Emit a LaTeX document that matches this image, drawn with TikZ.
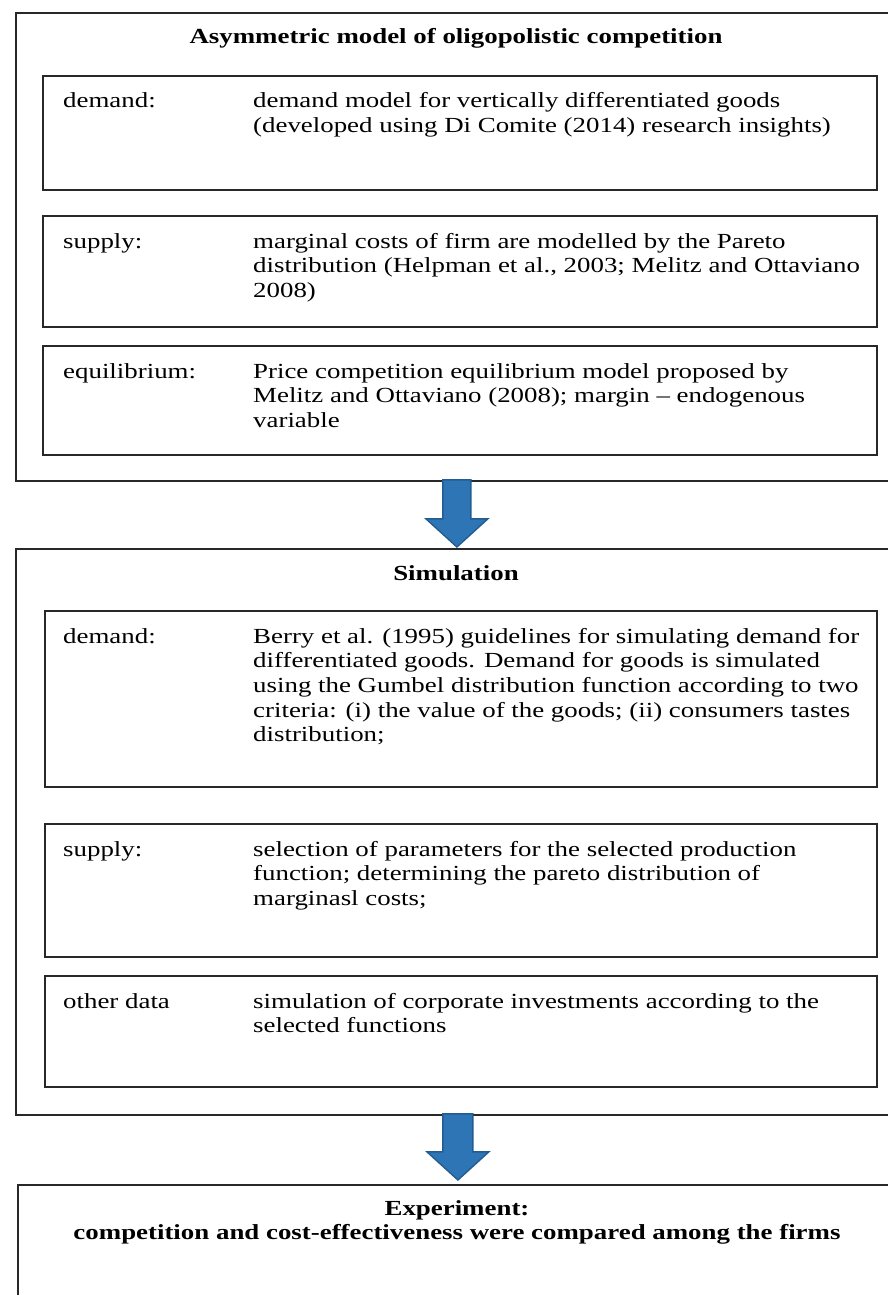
\documentclass[tikz,border=0pt]{standalone}
\usepackage{fontspec}
\setmainfont{Liberation Serif}[FakeStretch=1.25]
\usetikzlibrary{calc}
\definecolor{arrowfill}{RGB}{46,117,182}
\definecolor{arrowline}{RGB}{34,92,145}
\definecolor{boxline}{RGB}{40,40,40}
\begin{document}
\begin{tikzpicture}[x=1pt,y=-1pt,
  box/.style={draw=boxline,line width=1.8pt,rectangle,inner sep=0pt,anchor=north west},
  lbl/.style={inner sep=0pt,anchor=base west,font=\fontsize{21.5}{24.7}\selectfont},
  body/.style={inner sep=0pt,anchor=base west,align=left,font=\fontsize{21.5}{24.7}\selectfont},
  ttl/.style={inner sep=0pt,anchor=base,align=center,font=\fontsize{21.5}{24.3}\selectfont\bfseries},
  blockarrow/.style={fill=arrowfill,draw=arrowline,line width=1.4pt,line join=miter}
]
\clip (0,0) rectangle (888,1295);
\fill[white] (0,0) rectangle (888,1295);

% first block
\node[box,minimum width=885pt,minimum height=468pt] (outer1) at (15,12) {};
\node[ttl] (t1) at (456,44) {Asymmetric model of oligopolistic competition};
\node[box,minimum width=834pt,minimum height=114pt] (b1a) at (42,75) {};
\node[box,minimum width=834pt,minimum height=111pt] (b1b) at (42,215) {};
\node[box,minimum width=834pt,minimum height=109pt] (b1c) at (42,345) {};
\node[lbl] (l1a) at (63,108) {demand:};
\node[body] (x1a) at (253,132.7) {demand model for vertically differentiated goods\\(developed using Di Comite (2014) research insights)};
\node[lbl] (l1b) at (63,248) {supply:};
\node[body] (x1b) at (253,297.4) {marginal costs of firm are modelled by the Pareto\\distribution (Helpman et al., 2003; Melitz and Ottaviano\\2008)};
\node[lbl] (l1c) at (63,378) {equilibrium:};
\node[body] (x1c) at (253,427.4) {Price competition equilibrium model proposed by\\Melitz and Ottaviano (2008); margin – endogenous\\variable};

% second block
\node[box,minimum width=885pt,minimum height=566pt] (outer2) at (15,548) {};
\node[ttl] (t2) at (456,580) {Simulation};
\node[box,minimum width=832pt,minimum height=176pt] (b2a) at (44,610) {};
\node[box,minimum width=832pt,minimum height=133pt] (b2b) at (44,823) {};
\node[box,minimum width=832pt,minimum height=111pt] (b2c) at (44,975) {};
\node[lbl] (l2a) at (63,643) {demand:};
\node[body] (x2a) at (253,741.8) {Berry et al. (1995) guidelines for simulating demand for\\differentiated goods. Demand for goods is simulated\\using the Gumbel distribution function according to two\\criteria: (i) the value of the goods; (ii) consumers tastes\\distribution;};
\node[lbl] (l2b) at (63,856) {supply:};
\node[body] (x2b) at (253,905.4) {selection of parameters for the selected production\\function; determining the pareto distribution of\\marginasl costs;};
\node[lbl] (l2c) at (63,1008) {other data};
\node[body] (x2c) at (253,1032.7) {simulation of corporate investments according to the\\selected functions};

% third block
\node[box,minimum width=883pt,minimum height=130pt] (outer3) at (17,1184) {};
\node[ttl] (t3) at (457,1239.3) {Experiment:\\competition and cost-effectiveness were compared among the firms};

% block arrows
\coordinate (a1top) at ($(outer1.south)+(-1.5,-2)$);
\coordinate (a1tip) at ($(outer2.north)+(-1.5,-1)$);
\draw[blockarrow] ($(a1top)+(-14,0)$) -- ($(a1top)+(-14,39)$) -- ($(a1top)+(-31,39)$) -- (a1tip)
  -- ($(a1top)+(31,39)$) -- ($(a1top)+(14,39)$) -- ($(a1top)+(14,0)$) -- cycle;
\coordinate (a2top) at ($(outer2.south)+(-0.5,-2)$);
\coordinate (a2tip) at ($(outer3.north)+(-1.5,-4)$);
\draw[blockarrow] ($(a2top)+(-15,0)$) -- ($(a2top)+(-15,38)$) -- ($(a2top)+(-31,38)$) -- (a2tip)
  -- ($(a2top)+(31,38)$) -- ($(a2top)+(15,38)$) -- ($(a2top)+(15,0)$) -- cycle;
\end{tikzpicture}
\end{document}
